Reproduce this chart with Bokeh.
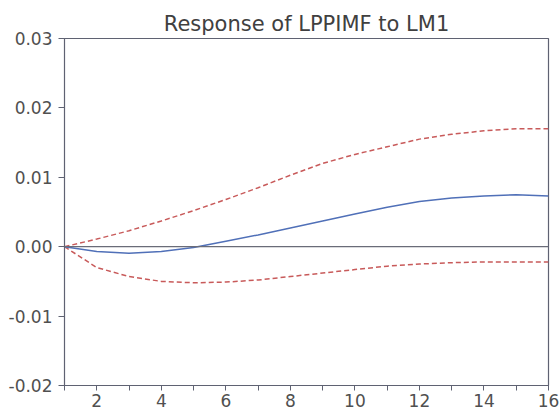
from bokeh.plotting import figure
from bokeh.models import Range1d, FixedTicker, PrintfTickFormatter, Span
from bokeh.embed import file_html
from bokeh.resources import INLINE

# Data
periods = list(range(1, 17))
response = [0.0, -0.0007, -0.00095, -0.0007, -0.0001, 0.0008, 0.0017, 0.0027,
            0.0037, 0.0047, 0.0057, 0.0065, 0.0070, 0.0073, 0.0075, 0.0073]
upper_band = [0.0, 0.0011, 0.0023, 0.0037, 0.0052, 0.0068, 0.0085, 0.0103,
              0.0120, 0.0133, 0.0144, 0.0155, 0.0162, 0.0167, 0.0170, 0.0170]
lower_band = [0.0, -0.0030, -0.0043, -0.0050, -0.0052, -0.0051, -0.0048, -0.0043,
              -0.0038, -0.0033, -0.0028, -0.0025, -0.0023, -0.0022, -0.0022, -0.0022]
x_major_ticks = [2, 4, 6, 8, 10, 12, 14, 16]
x_minor_ticks = [1, 3, 5, 7, 9, 11, 13, 15]
y_ticks = [-0.02, -0.01, 0.0, 0.01, 0.02, 0.03]
title_text = "Response of LPPIMF to LM1"

FONT = "DejaVu Sans"
AXIS_COLOR = "#5f6272"
TEXT_COLOR = "#505050"

p = figure(width=559, height=419, output_backend="svg", toolbar_location=None,
           x_range=Range1d(1, 16), y_range=Range1d(-0.02, 0.03),
           min_border_left=64, min_border_right=11, min_border_top=38,
           min_border_bottom=34)

p.title.text = title_text
p.title.align = "center"
p.title.text_font = FONT
p.title.text_font_size = "21px"
p.title.text_font_style = "normal"
p.title.text_color = "#404040"
p.title.standoff = 6

p.background_fill_color = "white"
p.border_fill_color = "white"
p.outline_line_color = AXIS_COLOR
p.outline_line_width = 1.2
p.xgrid.visible = False
p.ygrid.visible = False

# x axis
p.xaxis.ticker = FixedTicker(ticks=x_major_ticks, minor_ticks=x_minor_ticks)
p.xaxis.major_tick_out = 5
p.xaxis.major_tick_in = 0
p.xaxis.minor_tick_out = 5
p.xaxis.minor_tick_in = 0
p.xaxis.major_label_standoff = 3
p.xaxis.major_label_text_font = FONT
p.xaxis.major_label_text_font_size = "17px"
p.xaxis.major_label_text_color = TEXT_COLOR
p.xaxis.axis_line_color = AXIS_COLOR
p.xaxis.major_tick_line_color = AXIS_COLOR
p.xaxis.minor_tick_line_color = AXIS_COLOR

# y axis
p.yaxis.ticker = FixedTicker(ticks=y_ticks, minor_ticks=[])
p.yaxis.formatter = PrintfTickFormatter(format="%.2f")
p.yaxis.major_tick_out = 6
p.yaxis.major_tick_in = 0
p.yaxis.minor_tick_out = 0
p.yaxis.minor_tick_in = 0
p.yaxis.major_label_standoff = 6
p.yaxis.major_label_text_font = FONT
p.yaxis.major_label_text_font_size = "17px"
p.yaxis.major_label_text_color = TEXT_COLOR
p.yaxis.axis_line_color = AXIS_COLOR
p.yaxis.major_tick_line_color = AXIS_COLOR

# zero line
p.add_layout(Span(location=0, dimension="width", line_color="#6a6c78", line_width=1.2))

# bands and response
p.line(periods, upper_band, line_color="#c85a5a", line_width=1.5, line_dash="5 3")
p.line(periods, lower_band, line_color="#c85a5a", line_width=1.5, line_dash="5 3")
p.line(periods, response, line_color="#5070b8", line_width=1.5)

open("out.html", "w").write(file_html(p, INLINE))
